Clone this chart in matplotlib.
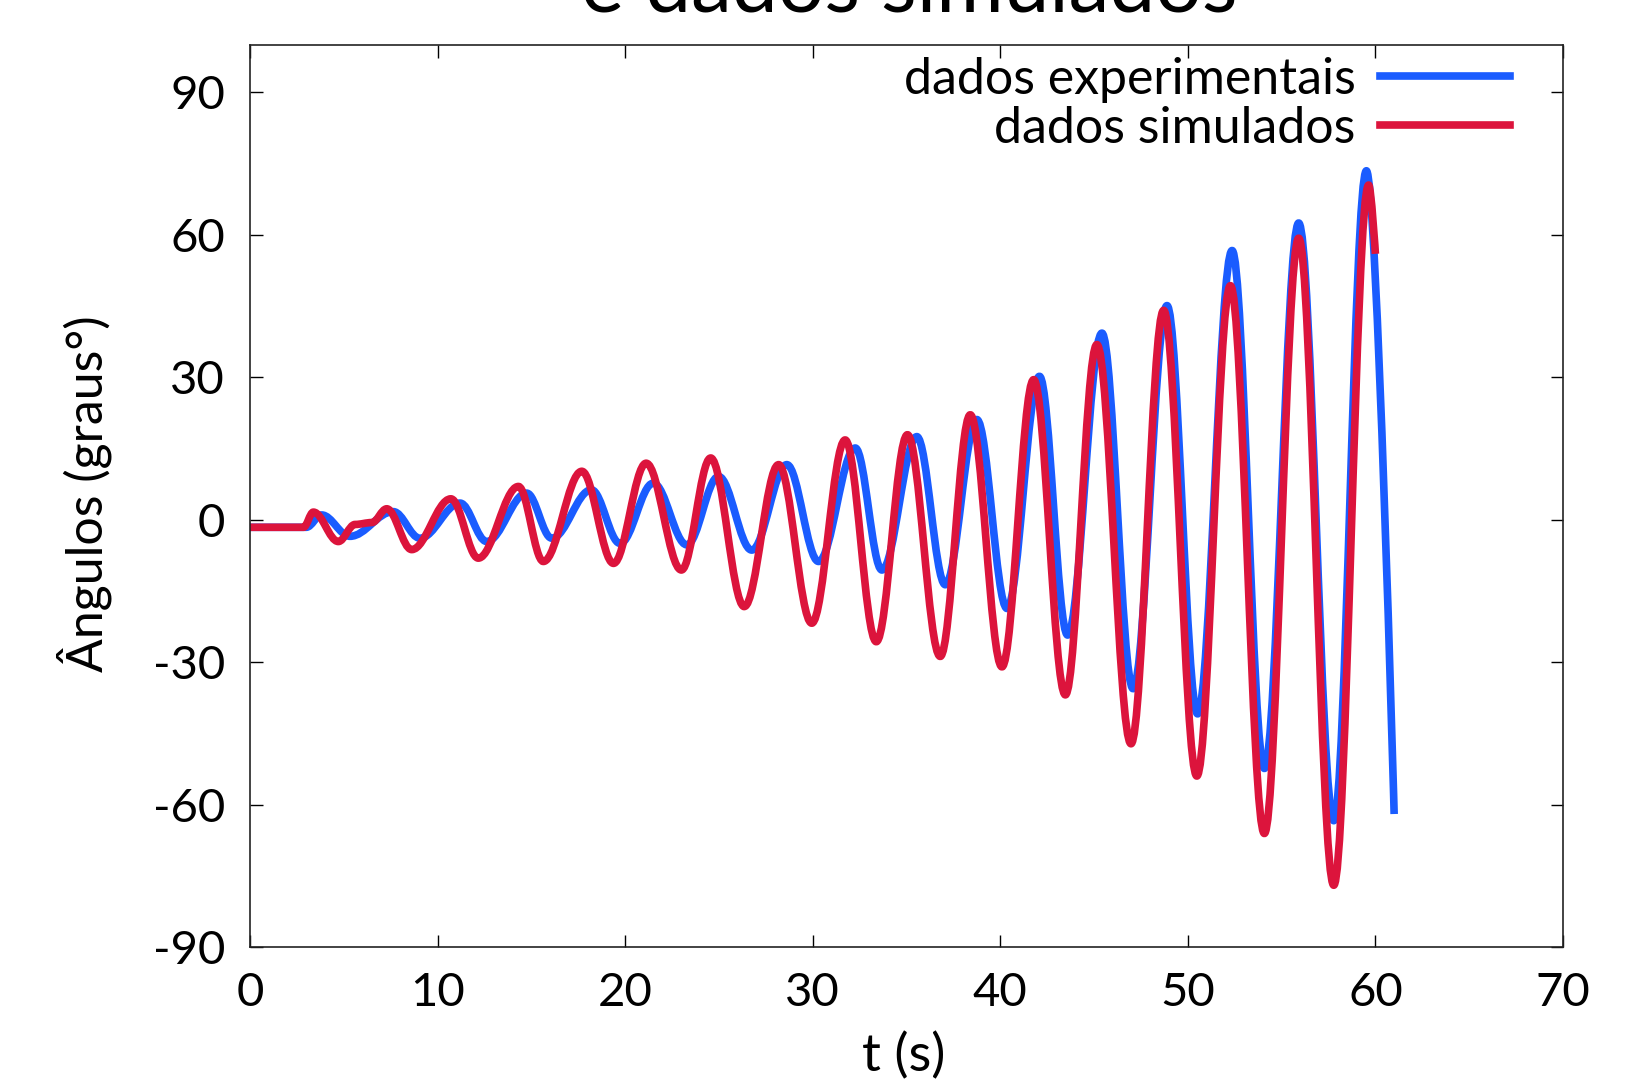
import matplotlib
matplotlib.use('Agg')
import matplotlib.pyplot as plt
from matplotlib.path import Path
from matplotlib.patches import PathPatch
from matplotlib.lines import Line2D

# Peaks and troughs (t in s, angle in degrees).
t_exp = [0.0, 3.0, 3.82, 5.33, 7.64, 9.06, 11.2, 12.62, 14.75, 16.09, 18.2, 19.73,
         21.5, 23.29, 24.98, 26.75, 28.62, 30.31, 32.27, 33.69, 35.55, 37.07, 38.75,
         40.36, 42.09, 43.59, 45.42, 47.08, 48.89, 50.52, 52.36, 54.08, 55.91, 57.78,
         59.52, 61.0]
ang_exp = [-1.6, -1.6, 1.0, -3.5, 1.7, -3.9, 3.5, -4.6, 5.6, -3.9, 6.3, -5.0,
           7.7, -5.3, 9.1, -6.4, 11.6, -8.8, 15.1, -10.6, 17.5, -13.7, 21.1,
           -18.7, 30.2, -24.3, 39.3, -35.6, 45.1, -40.9, 56.7, -52.4, 62.5, -63.4,
           73.5, -62.0]

t_sim = [0.0, 2.85, 3.38, 4.71, 5.6, 6.5, 7.29, 8.62, 10.71, 12.17, 14.31, 15.64,
         17.69, 19.38, 21.12, 23.0, 24.56, 26.35, 28.18, 29.95, 31.73, 33.39, 35.05,
         36.8, 38.4, 40.09, 41.78, 43.47, 45.15, 46.97, 48.71, 50.48, 52.27, 54.08,
         55.91, 57.78, 59.64, 60.0]
ang_sim = [-1.6, -1.6, 1.6, -4.6, -1.0, -0.6, 2.3, -6.3, 4.4, -8.1, 7.0, -8.8,
           10.2, -9.2, 11.9, -10.6, 13.0, -18.3, 11.6, -21.8, 16.8, -25.7, 17.9,
           -28.8, 22.1, -31.0, 29.5, -36.9, 36.9, -47.2, 44.1, -54.0, 49.3, -66.1,
           59.3, -77.0, 70.5, 56.0]

labels = ['dados experimentais', 'dados simulados']
colors = ['#1a5cff', '#dc143c']
x_ticks = [0, 10, 20, 30, 40, 50, 60, 70]
y_ticks = [-90, -60, -30, 0, 30, 60, 90]

LW = 5.5


def smooth_path(ts, ys, k=0.364):
  # cubic segments between extrema, flat tangent at each extremum
  verts = [(ts[0], ys[0])]
  codes = [Path.MOVETO]
  n = len(ts)
  for i in range(1, n):
    d = (ts[i] - ts[i - 1]) * k
    c1 = (ts[i - 1] + d, ys[i - 1])
    c2 = (ts[i] - d, ys[i]) if i < n - 1 else (ts[i], ys[i])
    verts += [c1, c2, (ts[i], ys[i])]
    codes += [Path.CURVE4] * 3
  return Path(verts, codes)


plt.rcParams['font.family'] = ['Lato', 'DejaVu Sans']
plt.rcParams['axes.unicode_minus'] = False

fig = plt.figure(figsize=(16.48, 10.81), dpi=100)
ax = fig.add_axes([0.1517, 0.1240, 0.7967, 0.8344])

for ts, ys, c in [(t_exp, ang_exp, colors[0]), (t_sim, ang_sim, colors[1])]:
  ax.add_patch(PathPatch(smooth_path(ts, ys), facecolor='none', edgecolor=c,
                         lw=LW, joinstyle='round', capstyle='butt'))

ax.set_xlim(0, 70)
ax.set_ylim(-90, 100)
ax.set_xticks(x_ticks)
ax.set_yticks(y_ticks)
ax.tick_params(direction='in', length=9, width=1, top=True, right=True,
               labelsize=34, pad=18, colors='black')
for s in ax.spines.values():
  s.set_linewidth(1.2)
  s.set_color('#222222')

ax.set_xlabel('t (s)', fontsize=38)
ax.set_ylabel('Ângulos (graus°)', fontsize=36)
ax.xaxis.set_label_coords(0.498, -0.121)
ax.xaxis.label.set_va('center')
ax.yaxis.set_label_coords(-0.126, 0.502)
ax.yaxis.label.set_va('center')

handles = [Line2D([], [], color=c, lw=LW) for c in colors]
ax.legend(handles, labels, loc='upper right', bbox_to_anchor=(0.96, 0.987),
          markerfirst=False, frameon=False, fontsize=36, handlelength=2.6,
          handletextpad=0.5, labelspacing=0.06, borderpad=0, borderaxespad=0)

# title is cut off at the top edge of the picture
fig.text(0.5516, 1 - 12 / 1081, 'e dados simulados', ha='center', va='baseline',
         fontsize=59)

fig.savefig('out.png', dpi=100)
